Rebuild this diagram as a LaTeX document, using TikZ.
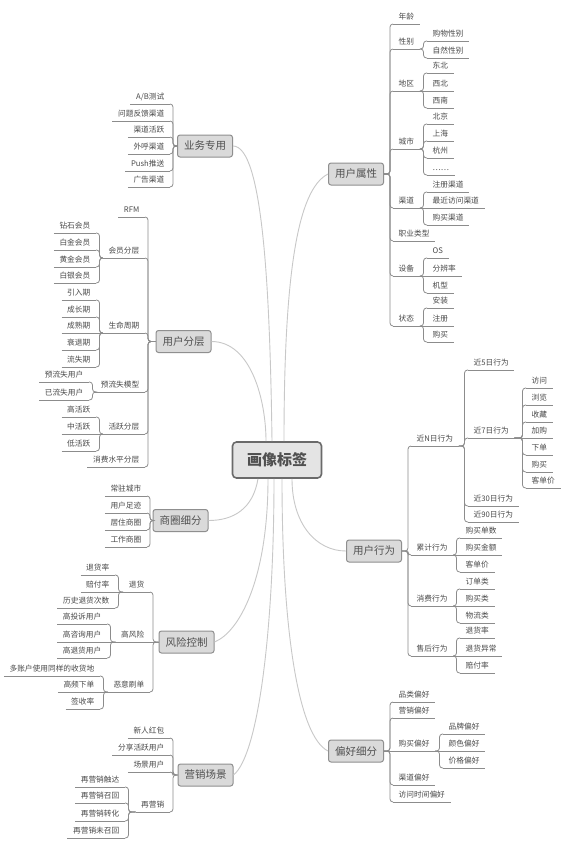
\documentclass[tikz,border=0pt]{standalone}
\usepackage{fontspec}
\setmainfont{Noto Sans CJK SC}
\definecolor{txt}{HTML}{4A4A4A}
\definecolor{ulc}{HTML}{8C8C8C}
\definecolor{mainc}{HTML}{C8C8C8}
\definecolor{boxf}{HTML}{DADADA}
\definecolor{bord}{HTML}{8F8F8F}
\definecolor{btxt}{HTML}{505050}
\definecolor{rootf}{HTML}{E4E4E4}
\definecolor{rootb}{HTML}{6A6A6A}
\tikzset{
 leaf/.style={font=\fontsize{7.7}{9}\selectfont, text=txt, inner xsep=5.5pt, inner ysep=3pt, text height=6pt, text depth=1.5pt},
 rleaf/.style={leaf, anchor=south west},
 lleaf/.style={leaf, anchor=south east},
 ul/.style={draw=ulc, line width=0.8pt},
 conn/.style={draw=ulc, line width=0.8pt, rounded corners=3pt},
 branch/.style={draw=bord, fill=boxf, rounded corners=2.5pt, line width=1pt, minimum width=55pt, minimum height=22pt, font=\fontsize{10.5}{12}\selectfont, text=btxt, inner sep=0pt},
 rootbox/.style={draw=rootb, fill=rootf, rounded corners=4pt, line width=1.6pt, minimum width=89pt, minimum height=36pt, font=\fontsize{15}{17}\selectfont\bfseries, text=btxt, inner sep=0pt},
 mainline/.style={draw=mainc, line width=0.9pt}
}
\newcommand\RN[4]{\node[rleaf] (#1) at (#2,#3) {#4}; \draw[ul] (#1.south west) -- (#1.south east);}
\newcommand\LN[4]{\node[lleaf] (#1) at (#2,#3) {#4}; \draw[ul] (#1.south west) -- (#1.south east);}
\newcommand\RC[2]{\draw[conn] (#1.south east) -| ([xshift=-3.5pt]#2.south west) -- (#2.south west);}
\newcommand\LC[2]{\draw[conn] (#1.south west) -| ([xshift=3.5pt]#2.south east) -- (#2.south east);}
\newcommand\RS[2]{\draw[conn] (#1.south east) -- (#2.south west);}
\newcommand\LS[2]{\draw[conn] (#1.south west) -- (#2.south east);}
\newcommand\RB[2]{\draw[conn] (#1.east) -| ([xshift=-3pt]#2.south west) -- (#2.south west);}
\newcommand\LB[2]{\draw[conn] (#1.west) -| ([xshift=3pt]#2.south east) -- (#2.south east);}
\newcommand\RBS[2]{\draw[conn] (#1.east) -- (#2.south west);}
\newcommand\LBS[2]{\draw[conn] (#1.west) -- (#2.south east);}
\begin{document}
\begin{tikzpicture}[x=1pt,y=-1pt]
\fill[white] (0,0) rectangle (576,857);
\path[use as bounding box] (0,0) rectangle (576,857);

% root and branches
\node[rootbox] (root) at (277,460) {画像标签};
\node[branch] (ua) at (356,174) {用户属性};
\node[branch] (xw) at (374,551) {用户行为};
\node[branch] (ph) at (356,751) {偏好细分};
\node[branch] (yw) at (205,146) {业务专用};
\node[branch] (fc) at (183.5,341.5) {用户分层};
\node[branch] (sq) at (180.5,520.5) {商圈细分};
\node[branch] (fk) at (186.5,642) {风险控制};
\node[branch] (yx) at (205.5,775) {营销场景};

% main curves
\draw[mainline] ([xshift=7pt]root.north) .. controls +(0,-170) and +(-30,15) .. (ua.west);
\draw[mainline] ([xshift=-5pt]root.north) .. controls +(-2,-150) and +(30,0) .. (yw.east);
\draw[mainline] ([xshift=-11pt]root.north) .. controls +(0,-40) and +(40,0) .. (fc.east);
\draw[mainline] ([xshift=-19pt]root.south) .. controls +(-5,30) and +(25,0) .. (sq.east);
\draw[mainline] ([xshift=15pt]root.south) .. controls +(0,45) and +(-30,0) .. (xw.west);
\draw[mainline] ([xshift=-9pt]root.south) .. controls +(0,100) and +(25,-10) .. (fk.east);
\draw[mainline] ([xshift=-3pt]root.south) .. controls +(0,150) and +(25,-20) .. (yx.east);
\draw[mainline] ([xshift=5pt]root.south) .. controls +(0,150) and +(-30,-15) .. (ph.west);

% ===== 用户属性 =====
\RN{ua1}{393}{24}{年龄}
\RN{ua2}{393}{49}{性别}
\RN{ua21}{427}{41}{购物性别}
\RN{ua22}{427}{58}{自然性别}
\RN{ua3}{393}{91}{地区}
\RN{ua31}{427}{73}{东北}
\RN{ua32}{427}{91}{西北}
\RN{ua33}{427}{108}{西南}
\RN{ua4}{393}{149}{城市}
\RN{ua41}{427}{124}{北京}
\RN{ua42}{427}{141}{上海}
\RN{ua43}{427}{158}{杭州}
\RN{ua44}{427}{175}{……}
\RN{ua5}{393}{208}{渠道}
\RN{ua51}{427}{192}{注册渠道}
\RN{ua52}{427}{208}{最近访问渠道}
\RN{ua53}{427}{225}{购买渠道}
\RN{ua6}{393}{241}{职业类型}
\RN{ua7}{393}{276}{设备}
\RN{ua71}{427}{258}{OS}
\RN{ua72}{427}{276}{分辨率}
\RN{ua73}{427}{293}{机型}
\RN{ua8}{393}{326}{状态}
\RN{ua81}{427}{308}{安装}
\RN{ua82}{427}{326}{注册}
\RN{ua83}{427}{342}{购买}
\RB{ua}{ua1}\RB{ua}{ua2}\RB{ua}{ua3}\RB{ua}{ua4}
\RB{ua}{ua5}\RB{ua}{ua6}\RB{ua}{ua7}\RB{ua}{ua8}
\RC{ua2}{ua21}\RC{ua2}{ua22}
\RC{ua3}{ua31}\RS{ua3}{ua32}\RC{ua3}{ua33}
\RC{ua4}{ua41}\RC{ua4}{ua42}\RC{ua4}{ua43}\RC{ua4}{ua44}
\RC{ua5}{ua51}\RS{ua5}{ua52}\RC{ua5}{ua53}
\RC{ua7}{ua71}\RS{ua7}{ua72}\RC{ua7}{ua73}
\RC{ua8}{ua81}\RS{ua8}{ua82}\RC{ua8}{ua83}

% ===== 用户行为 =====
\RN{xw1}{411}{446}{近N日行为}
\RN{xw11}{468}{370}{近5日行为}
\RN{xw12}{468}{438}{近7日行为}
\RN{xw121}{526}{388}{访问}
\RN{xw122}{526}{405}{浏览}
\RN{xw123}{526}{422}{收藏}
\RN{xw124}{526}{438}{加购}
\RN{xw125}{526}{455}{下单}
\RN{xw126}{526}{472}{购买}
\RN{xw127}{526}{488}{客单价}
\RN{xw13}{468}{506}{近30日行为}
\RN{xw14}{468}{522}{近90日行为}
\RN{xw2}{411}{555}{累计行为}
\RN{xw21}{460}{538}{购买单数}
\RN{xw22}{460}{555}{购买金额}
\RN{xw23}{460}{572}{客单价}
\RN{xw3}{411}{606}{消费行为}
\RN{xw31}{460}{589}{订单类}
\RN{xw32}{460}{606}{购买类}
\RN{xw33}{460}{623}{物流类}
\RN{xw4}{411}{656}{售后行为}
\RN{xw41}{460}{638}{退货率}
\RN{xw42}{460}{656}{退货异常}
\RN{xw43}{460}{673}{赔付率}
\RB{xw}{xw1}\RB{xw}{xw2}\RB{xw}{xw3}\RB{xw}{xw4}
\RC{xw1}{xw11}\RC{xw1}{xw12}\RC{xw1}{xw13}\RC{xw1}{xw14}
\RC{xw12}{xw121}\RC{xw12}{xw122}\RC{xw12}{xw123}\RS{xw12}{xw124}
\RC{xw12}{xw125}\RC{xw12}{xw126}\RC{xw12}{xw127}
\RC{xw2}{xw21}\RS{xw2}{xw22}\RC{xw2}{xw23}
\RC{xw3}{xw31}\RS{xw3}{xw32}\RC{xw3}{xw33}
\RC{xw4}{xw41}\RS{xw4}{xw42}\RC{xw4}{xw43}

% ===== 偏好细分 =====
\RN{ph1}{393}{702}{品类偏好}
\RN{ph2}{393}{718}{营销偏好}
\RN{ph3}{393}{751}{购买偏好}
\RN{ph31}{443}{734}{品牌偏好}
\RN{ph32}{443}{751}{颜色偏好}
\RN{ph33}{443}{768}{价格偏好}
\RN{ph4}{393}{785}{渠道偏好}
\RN{ph5}{393}{802}{访问时间偏好}
\RB{ph}{ph1}\RB{ph}{ph2}\RBS{ph}{ph3}\RB{ph}{ph4}\RB{ph}{ph5}
\RC{ph3}{ph31}\RS{ph3}{ph32}\RC{ph3}{ph33}

% ===== 业务专用 =====
\LN{yw1}{170}{104}{A/B测试}
\LN{yw2}{170}{121}{问题反馈渠道}
\LN{yw3}{170}{137}{渠道活跃}
\LN{yw4}{170}{154}{外呼渠道}
\LN{yw5}{170}{171}{Push推送}
\LN{yw6}{170}{187}{广告渠道}
\LB{yw}{yw1}\LB{yw}{yw2}\LB{yw}{yw3}\LB{yw}{yw4}\LB{yw}{yw5}\LB{yw}{yw6}

% ===== 用户分层 =====
\LN{fc1}{145}{217}{RFM}
\LN{fc2}{145}{258}{会员分层}
\LN{fc21}{96}{233}{钻石会员}
\LN{fc22}{96}{250}{白金会员}
\LN{fc23}{96}{267}{黄金会员}
\LN{fc24}{96}{283}{白银会员}
\LN{fc3}{145}{333}{生命周期}
\LN{fc31}{96}{300}{引入期}
\LN{fc32}{96}{317}{成长期}
\LN{fc33}{96}{333}{成熟期}
\LN{fc34}{96}{350}{衰退期}
\LN{fc35}{96}{367}{流失期}
\LN{fc4}{145}{392}{预流失模型}
\LN{fc41}{89}{382}{预流失用户}
\LN{fc42}{89}{400}{已流失用户}
\LN{fc5}{145}{434}{活跃分层}
\LN{fc51}{96}{417}{高活跃}
\LN{fc52}{96}{434}{中活跃}
\LN{fc53}{96}{451}{低活跃}
\LN{fc6}{145}{467}{消费水平分层}
\LB{fc}{fc1}\LB{fc}{fc2}\LB{fc}{fc3}\LB{fc}{fc4}\LB{fc}{fc5}\LB{fc}{fc6}
\LC{fc2}{fc21}\LC{fc2}{fc22}\LC{fc2}{fc23}\LC{fc2}{fc24}
\LC{fc3}{fc31}\LC{fc3}{fc32}\LS{fc3}{fc33}\LC{fc3}{fc34}\LC{fc3}{fc35}
\LC{fc4}{fc41}\LC{fc4}{fc42}
\LC{fc5}{fc51}\LS{fc5}{fc52}\LC{fc5}{fc53}

% ===== 商圈细分 =====
\LN{sq1}{147}{496}{常驻城市}
\LN{sq2}{147}{513}{用户足迹}
\LN{sq3}{147}{530}{居住商圈}
\LN{sq4}{147}{547}{工作商圈}
\LB{sq}{sq1}\LB{sq}{sq2}\LB{sq}{sq3}\LB{sq}{sq4}

% ===== 风险控制 =====
\LN{fk1}{150}{592}{退货}
\LN{fk11}{115}{575}{退货率}
\LN{fk12}{115}{592}{赔付率}
\LN{fk13}{115}{608}{历史退货次数}
\LN{fk2}{150}{642}{高风险}
\LN{fk21}{107}{624}{高投诉用户}
\LN{fk22}{107}{642}{高咨询用户}
\LN{fk23}{107}{658}{高退货用户}
\LN{fk3}{150}{692}{恶意刷单}
\LN{fk31}{100}{676}{多账户使用同样的收货地}
\LN{fk32}{100}{692}{高频下单}
\LN{fk33}{100}{709}{签收率}
\LB{fk}{fk1}\LBS{fk}{fk2}\LB{fk}{fk3}
\LC{fk1}{fk11}\LS{fk1}{fk12}\LC{fk1}{fk13}
\LC{fk2}{fk21}\LS{fk2}{fk22}\LC{fk2}{fk23}
\LC{fk3}{fk31}\LS{fk3}{fk32}\LC{fk3}{fk33}

% ===== 营销场景 =====
\LN{yx1}{170}{738}{新人红包}
\LN{yx2}{170}{755}{分享活跃用户}
\LN{yx3}{170}{772}{场景用户}
\LN{yx4}{170}{812}{再营销}
\LN{yx41}{125}{787}{再营销触达}
\LN{yx42}{125}{803}{再营销召回}
\LN{yx43}{125}{821}{再营销转化}
\LN{yx44}{125}{838}{再营销未召回}
\LB{yx}{yx1}\LB{yx}{yx2}\LB{yx}{yx3}\LB{yx}{yx4}
\LC{yx4}{yx41}\LC{yx4}{yx42}\LC{yx4}{yx43}\LC{yx4}{yx44}
\end{tikzpicture}
\end{document}
